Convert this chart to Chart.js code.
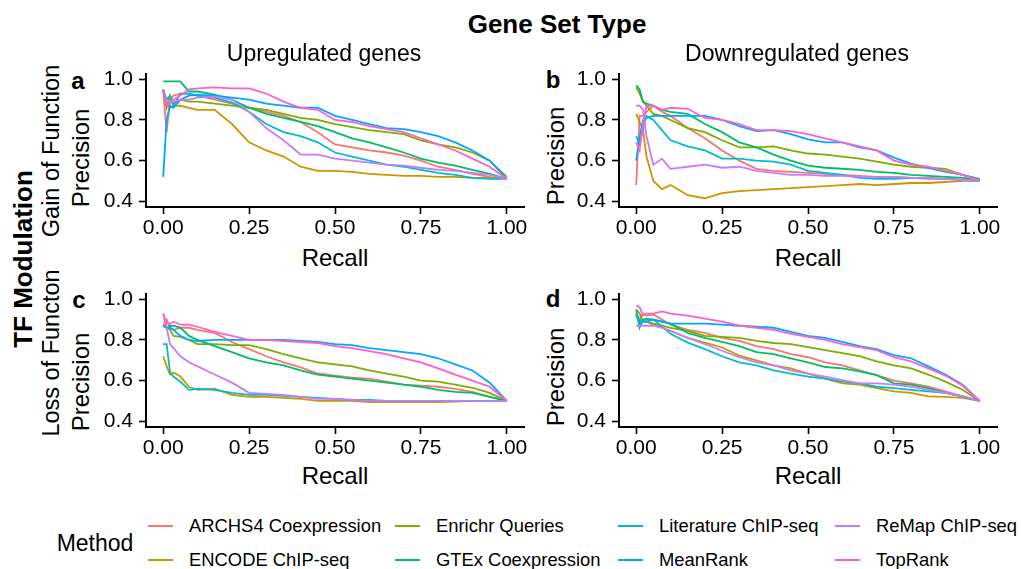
<!DOCTYPE html>
<html>
<head>
<meta charset="utf-8">
<script src="https://cdn.jsdelivr.net/npm/chart.js@4.4.0/dist/chart.umd.min.js"></script>
<style>
  body { margin: 0; background: #fff; font-family: "Liberation Sans", Arial, Helvetica, sans-serif; color: #000; }
  #page { position: relative; width: 1021px; height: 569px; overflow: hidden; background: #fff; }
  canvas { position: absolute; }
  .txt { position: absolute; white-space: nowrap; line-height: 1; transform: translate(-50%, -50%); }
  .vert { transform: translate(-50%, -50%) rotate(-90deg); }
  .bold { font-weight: bold; }
  .key { position: absolute; width: 25px; height: 0; border-top: 2.5px solid; }
  .lab { position: absolute; white-space: nowrap; line-height: 1; font-size: 18.4px; transform: translateY(-50%); }
</style>
</head>
<body>
<div id="page">
  <canvas id="pa" width="444" height="185" style="left:96px;top:55px"></canvas>
  <canvas id="pb" width="444" height="185" style="left:569px;top:55px"></canvas>
  <canvas id="pc" width="444" height="185" style="left:96px;top:275px"></canvas>
  <canvas id="pd" width="444" height="185" style="left:569px;top:275px"></canvas>

  <div class="txt bold" style="left:557px;top:24px;font-size:26px">Gene Set Type</div>
  <div class="txt" style="left:324px;top:53px;font-size:23px">Upregulated genes</div>
  <div class="txt" style="left:797px;top:53px;font-size:23px">Downregulated genes</div>
  <div class="txt vert bold" style="left:23px;top:259px;font-size:26px">TF Modulation</div>

  <div class="txt vert" style="left:52px;top:151px;font-size:23.5px">Gain of Function</div>
  <div class="txt vert" style="left:81px;top:158px;font-size:24px">Precision</div>
  <div class="txt vert" style="left:556px;top:156px;font-size:24px">Precision</div>
  <div class="txt vert" style="left:52px;top:353px;font-size:23.5px">Loss of Functon</div>
  <div class="txt vert" style="left:81px;top:382px;font-size:24px">Precision</div>
  <div class="txt vert" style="left:556px;top:377px;font-size:24px">Precision</div>

  <div class="txt" style="left:335px;top:258px;font-size:24px">Recall</div>
  <div class="txt" style="left:808px;top:258px;font-size:24px">Recall</div>
  <div class="txt" style="left:335px;top:476px;font-size:24px">Recall</div>
  <div class="txt" style="left:808px;top:476px;font-size:24px">Recall</div>

  <div class="txt bold" style="left:78px;top:81px;font-size:24px">a</div>
  <div class="txt bold" style="left:553px;top:80px;font-size:24px">b</div>
  <div class="txt bold" style="left:79px;top:300px;font-size:24px">c</div>
  <div class="txt bold" style="left:553px;top:299px;font-size:24px">d</div>

  <div class="txt" style="left:95px;top:543px;font-size:23px">Method</div>
  <div id="legend"></div>
</div>

<script>
const recall = [0, 0.01, 0.02, 0.03, 0.05, 0.075, 0.1, 0.15, 0.2, 0.25, 0.3, 0.35, 0.4,
                0.45, 0.5, 0.55, 0.6, 0.65, 0.7, 0.75, 0.8, 0.85, 0.9, 0.95, 1];

const methods = ['ARCHS4 Coexpression', 'ENCODE ChIP-seq', 'Enrichr Queries', 'GTEx Coexpression',
                 'Literature ChIP-seq', 'MeanRank', 'ReMap ChIP-seq', 'TopRank'];

const methodColors = ['#F8766D', '#CD9600', '#7CAE00', '#00BE67', '#00BFC4', '#00A9FF', '#C77CFF', '#FF61CC'];

const yTicks = [0.4, 0.6, 0.8, 1.0];
const xTicks = [0, 0.25, 0.5, 0.75, 1];

// precision per method (rows follow `methods`), columns follow `recall`
const upGain = [
  [0.95, 0.74, 0.90, 0.92, 0.93, 0.93, 0.92, 0.90, 0.88, 0.86, 0.84, 0.82, 0.79, 0.74, 0.68, 0.665, 0.65, 0.64, 0.625, 0.60, 0.57, 0.555, 0.535, 0.52, 0.51],
  [0.95, 0.88, 0.86, 0.87, 0.87, 0.86, 0.85, 0.85, 0.78, 0.69, 0.65, 0.62, 0.57, 0.55, 0.55, 0.545, 0.535, 0.53, 0.525, 0.525, 0.52, 0.52, 0.515, 0.515, 0.51],
  [0.95, 0.86, 0.92, 0.88, 0.90, 0.89, 0.89, 0.88, 0.87, 0.86, 0.85, 0.83, 0.81, 0.80, 0.78, 0.765, 0.75, 0.74, 0.73, 0.70, 0.68, 0.665, 0.64, 0.60, 0.52],
  [0.99, 0.99, 0.99, 0.99, 0.99, 0.94, 0.94, 0.925, 0.90, 0.86, 0.83, 0.81, 0.79, 0.77, 0.74, 0.71, 0.69, 0.665, 0.64, 0.61, 0.59, 0.575, 0.555, 0.535, 0.51],
  [0.95, 0.90, 0.92, 0.87, 0.93, 0.93, 0.92, 0.91, 0.885, 0.84, 0.78, 0.74, 0.72, 0.69, 0.64, 0.62, 0.60, 0.58, 0.57, 0.555, 0.54, 0.53, 0.515, 0.51, 0.51],
  [0.52, 0.80, 0.87, 0.86, 0.90, 0.92, 0.925, 0.92, 0.91, 0.90, 0.88, 0.87, 0.86, 0.86, 0.82, 0.80, 0.78, 0.76, 0.755, 0.74, 0.72, 0.69, 0.65, 0.60, 0.51],
  [0.94, 0.89, 0.89, 0.89, 0.90, 0.90, 0.91, 0.915, 0.90, 0.84, 0.76, 0.70, 0.63, 0.63, 0.61, 0.60, 0.59, 0.58, 0.575, 0.565, 0.555, 0.55, 0.54, 0.53, 0.51],
  [0.95, 0.87, 0.88, 0.90, 0.92, 0.95, 0.955, 0.96, 0.955, 0.955, 0.93, 0.89, 0.86, 0.85, 0.80, 0.79, 0.77, 0.755, 0.74, 0.71, 0.68, 0.65, 0.61, 0.57, 0.51]
];

const downGain = [
  [0.48, 0.82, 0.82, 0.84, 0.87, 0.84, 0.82, 0.76, 0.71, 0.65, 0.60, 0.56, 0.55, 0.545, 0.54, 0.535, 0.53, 0.525, 0.52, 0.52, 0.515, 0.51, 0.51, 0.505, 0.50],
  [0.83, 0.79, 0.75, 0.62, 0.50, 0.46, 0.48, 0.43, 0.415, 0.44, 0.45, 0.455, 0.46, 0.465, 0.47, 0.475, 0.48, 0.485, 0.48, 0.485, 0.49, 0.49, 0.495, 0.50, 0.50],
  [0.96, 0.93, 0.89, 0.87, 0.83, 0.82, 0.80, 0.76, 0.74, 0.70, 0.665, 0.665, 0.67, 0.65, 0.635, 0.63, 0.62, 0.61, 0.595, 0.58, 0.57, 0.565, 0.56, 0.53, 0.51],
  [0.97, 0.95, 0.89, 0.88, 0.87, 0.85, 0.84, 0.83, 0.78, 0.74, 0.69, 0.665, 0.63, 0.60, 0.575, 0.565, 0.56, 0.555, 0.545, 0.54, 0.53, 0.525, 0.52, 0.515, 0.505],
  [0.72, 0.68, 0.76, 0.82, 0.80, 0.75, 0.70, 0.67, 0.65, 0.61, 0.61, 0.60, 0.595, 0.58, 0.55, 0.54, 0.53, 0.515, 0.51, 0.51, 0.515, 0.515, 0.51, 0.505, 0.50],
  [0.60, 0.72, 0.80, 0.81, 0.82, 0.82, 0.82, 0.82, 0.82, 0.80, 0.77, 0.745, 0.75, 0.73, 0.705, 0.69, 0.69, 0.665, 0.65, 0.615, 0.585, 0.565, 0.545, 0.53, 0.505],
  [0.87, 0.87, 0.85, 0.72, 0.58, 0.61, 0.56, 0.57, 0.58, 0.565, 0.57, 0.55, 0.54, 0.53, 0.53, 0.525, 0.525, 0.52, 0.52, 0.52, 0.515, 0.515, 0.51, 0.505, 0.50],
  [0.69, 0.65, 0.78, 0.87, 0.87, 0.85, 0.86, 0.855, 0.81, 0.80, 0.78, 0.75, 0.75, 0.745, 0.73, 0.71, 0.69, 0.67, 0.65, 0.60, 0.58, 0.57, 0.55, 0.53, 0.50]
];

const upLoss = [
  [0.87, 0.90, 0.86, 0.85, 0.86, 0.86, 0.85, 0.835, 0.79, 0.755, 0.72, 0.69, 0.665, 0.635, 0.625, 0.615, 0.61, 0.595, 0.58, 0.575, 0.57, 0.56, 0.545, 0.52, 0.50],
  [0.72, 0.67, 0.63, 0.64, 0.62, 0.57, 0.555, 0.56, 0.53, 0.52, 0.52, 0.515, 0.51, 0.50, 0.50, 0.50, 0.495, 0.495, 0.495, 0.495, 0.495, 0.497, 0.50, 0.50, 0.50],
  [0.87, 0.86, 0.85, 0.82, 0.815, 0.80, 0.78, 0.78, 0.775, 0.775, 0.755, 0.73, 0.71, 0.69, 0.68, 0.67, 0.65, 0.635, 0.62, 0.60, 0.595, 0.58, 0.565, 0.54, 0.50],
  [0.87, 0.86, 0.87, 0.87, 0.86, 0.82, 0.80, 0.77, 0.74, 0.71, 0.69, 0.675, 0.65, 0.63, 0.62, 0.61, 0.60, 0.59, 0.58, 0.57, 0.555, 0.545, 0.54, 0.52, 0.50],
  [0.78, 0.78, 0.64, 0.62, 0.595, 0.555, 0.56, 0.555, 0.54, 0.53, 0.53, 0.525, 0.52, 0.515, 0.51, 0.505, 0.505, 0.50, 0.50, 0.50, 0.50, 0.50, 0.50, 0.50, 0.50],
  [0.87, 0.86, 0.86, 0.85, 0.82, 0.80, 0.795, 0.80, 0.80, 0.80, 0.80, 0.80, 0.795, 0.79, 0.78, 0.775, 0.76, 0.75, 0.74, 0.73, 0.71, 0.68, 0.65, 0.59, 0.50],
  [0.93, 0.86, 0.78, 0.76, 0.72, 0.69, 0.67, 0.63, 0.59, 0.54, 0.535, 0.53, 0.52, 0.51, 0.51, 0.505, 0.50, 0.50, 0.50, 0.50, 0.50, 0.50, 0.50, 0.50, 0.50],
  [0.93, 0.88, 0.88, 0.89, 0.875, 0.875, 0.865, 0.84, 0.82, 0.80, 0.80, 0.795, 0.79, 0.785, 0.77, 0.76, 0.745, 0.73, 0.71, 0.69, 0.66, 0.63, 0.60, 0.57, 0.50]
];

const downLoss = [
  [0.92, 0.90, 0.93, 0.92, 0.925, 0.90, 0.875, 0.85, 0.835, 0.81, 0.795, 0.77, 0.755, 0.73, 0.715, 0.69, 0.675, 0.65, 0.627, 0.60, 0.587, 0.57, 0.547, 0.523, 0.50],
  [0.93, 0.90, 0.89, 0.89, 0.875, 0.86, 0.845, 0.81, 0.787, 0.763, 0.723, 0.70, 0.675, 0.66, 0.635, 0.61, 0.587, 0.58, 0.563, 0.547, 0.54, 0.523, 0.52, 0.515, 0.50],
  [0.95, 0.93, 0.89, 0.89, 0.88, 0.87, 0.86, 0.845, 0.82, 0.815, 0.81, 0.795, 0.785, 0.78, 0.765, 0.75, 0.735, 0.72, 0.695, 0.675, 0.66, 0.63, 0.595, 0.555, 0.50],
  [0.95, 0.86, 0.90, 0.905, 0.90, 0.89, 0.88, 0.835, 0.81, 0.79, 0.77, 0.74, 0.73, 0.71, 0.69, 0.667, 0.66, 0.645, 0.627, 0.587, 0.58, 0.563, 0.54, 0.523, 0.50],
  [0.92, 0.89, 0.90, 0.90, 0.90, 0.867, 0.83, 0.787, 0.755, 0.72, 0.69, 0.675, 0.65, 0.635, 0.62, 0.61, 0.595, 0.587, 0.57, 0.563, 0.555, 0.547, 0.54, 0.523, 0.50],
  [0.93, 0.88, 0.89, 0.89, 0.90, 0.89, 0.88, 0.88, 0.88, 0.875, 0.87, 0.865, 0.86, 0.84, 0.82, 0.81, 0.79, 0.77, 0.755, 0.725, 0.71, 0.67, 0.63, 0.58, 0.50],
  [0.87, 0.87, 0.87, 0.87, 0.87, 0.86, 0.845, 0.81, 0.78, 0.747, 0.715, 0.69, 0.675, 0.65, 0.635, 0.62, 0.603, 0.587, 0.587, 0.58, 0.57, 0.555, 0.54, 0.523, 0.50],
  [0.97, 0.96, 0.92, 0.93, 0.93, 0.94, 0.93, 0.92, 0.905, 0.89, 0.87, 0.86, 0.85, 0.83, 0.815, 0.80, 0.78, 0.765, 0.75, 0.715, 0.695, 0.66, 0.625, 0.575, 0.50]
];

const FONT = '"Liberation Sans", Arial, Helvetica, sans-serif';

function drawPanel(id, rows) {
  const datasets = methods.map((name, i) => ({
    label: name,
    data: recall.map((r, k) => ({ x: r, y: rows[i][k] })),
    borderColor: methodColors[i],
    borderWidth: 1.8,
    pointRadius: 0,
    tension: 0,
    fill: false,
    order: methods.length - i   // later methods sit on top, like ggplot
  }));

  new Chart(document.getElementById(id), {
    type: 'line',
    data: { datasets },
    options: {
      responsive: false,
      animation: false,
      events: [],
      layout: { padding: { top: 15, right: 16, bottom: 0, left: 0 } },
      plugins: { legend: { display: false }, tooltip: { enabled: false } },
      scales: {
        x: {
          type: 'linear',
          min: -0.05,
          max: 1.05,
          afterFit: s => { s.height = 33; },
          afterBuildTicks: s => { s.ticks = xTicks.map(v => ({ value: v })); },
          ticks: {
            callback: v => Number(v).toFixed(2),
            font: { size: 21, family: FONT },
            color: '#000',
            padding: 2,
            maxRotation: 0,
            autoSkip: false
          },
          grid: { drawOnChartArea: false, tickLength: 7, tickColor: '#000', tickWidth: 1.6 },
          border: { color: '#000', width: 2 }
        },
        y: {
          min: 0.372,
          max: 1.028,
          afterFit: s => { s.width = 50; },
          afterBuildTicks: s => { s.ticks = yTicks.map(v => ({ value: v })); },
          ticks: {
            callback: v => Number(v).toFixed(1),
            font: { size: 21, family: FONT },
            color: '#000',
            padding: 6,
            autoSkip: false
          },
          grid: { drawOnChartArea: false, tickLength: 7, tickColor: '#000', tickWidth: 1.6 },
          border: { color: '#000', width: 2 }
        }
      }
    }
  });
}

drawPanel('pa', upGain);
drawPanel('pb', downGain);
drawPanel('pc', upLoss);
drawPanel('pd', downLoss);

// legend: two rows, four columns, filled column by column
const keyX = [148, 395, 618, 835];
const rowY = [526, 560];
const legend = document.getElementById('legend');
methods.forEach((name, i) => {
  const col = Math.floor(i / 2), row = i % 2;
  const key = document.createElement('div');
  key.className = 'key';
  key.style.left = keyX[col] + 'px';
  key.style.top = (rowY[row] - 1) + 'px';
  key.style.borderColor = methodColors[i];
  legend.appendChild(key);
  const lab = document.createElement('div');
  lab.className = 'lab';
  lab.style.left = (keyX[col] + 41) + 'px';
  lab.style.top = rowY[row] + 'px';
  lab.textContent = name;
  legend.appendChild(lab);
});
</script>
</body>
</html>
